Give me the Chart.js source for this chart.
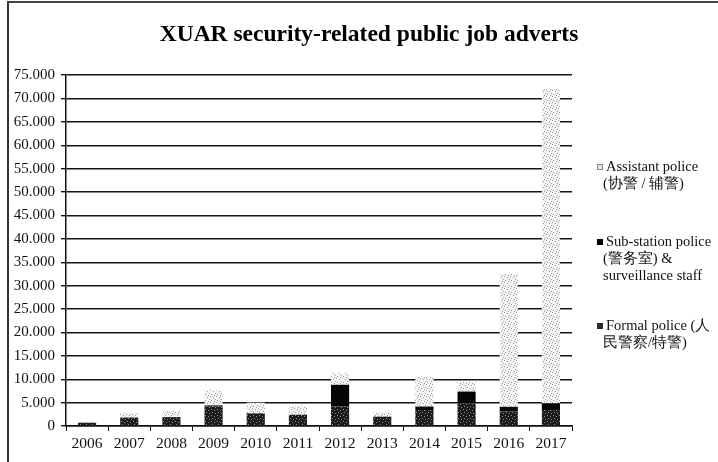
<!DOCTYPE html>
<html>
<head>
<meta charset="utf-8">
<script src="https://cdn.jsdelivr.net/npm/chart.js@4/dist/chart.umd.min.js"></script>
<style>
    html, body { margin: 0; padding: 0; background: #fff; }
    #wrap { position: relative; width: 718px; height: 462px; overflow: hidden; }
    #frame {
        position: absolute; left: 7px; top: 1px; right: -4px; bottom: -4px;
        border-left: 2px solid #333; border-top: 2px solid #444;
    }
    #advertsChart { position: absolute; left: 0; top: 0; }
    #chartTitle {
        position: absolute; left: 369px; top: 20px; transform: translateX(-50%);
        white-space: nowrap; font-family: "Liberation Serif", serif; font-weight: bold;
        font-size: 23.5px; line-height: 26px; color: #000;
    }
    .legend-item {
        position: absolute; left: 597px;
        font-family: "Liberation Serif", serif; font-size: 14.5px; line-height: 17px;
        color: #111;
    }
    .legend-item .line2 { margin-left: 6px; }
    .swatch {
        display: inline-block; width: 6px; height: 6px; margin-right: 3px;
        vertical-align: 1px; box-sizing: border-box;
    }
</style>
</head>
<body>
<div id="wrap">
    <canvas id="advertsChart" width="718" height="462"></canvas>
    <div id="frame"></div>
    <div id="chartTitle">XUAR security-related public job adverts</div>
    <div class="legend-item" style="top: 158px;">
        <span class="swatch" style="background:#e6e6e6;border:1px solid #888;"></span>Assistant police<br>
        <span class="line2">(协警 / 辅警)</span>
    </div>
    <div class="legend-item" style="top: 233px;">
        <span class="swatch" style="background:#000;"></span>Sub-station police<br>
        <span class="line2">(警务室) &amp;</span><br>
        <span class="line2">surveillance staff</span>
    </div>
    <div class="legend-item" style="top: 317px;">
        <span class="swatch" style="background:#2a2a2a;"></span>Formal police (人<br>
        <span class="line2">民警察/特警)</span>
    </div>
</div>

<script>
// Anúncios de vagas por ano, empilhados por tipo de cargo
const years = ['2006', '2007', '2008', '2009', '2010', '2011', '2012', '2013', '2014', '2015', '2016', '2017'];
const formalPolice = [700, 1800, 1900, 4200, 2700, 2400, 4150, 2000, 3400, 4850, 3100, 3400];
const substationPolice = [0, 0, 0, 200, 0, 0, 4650, 0, 750, 2500, 1000, 1450];
const assistantPolice = [200, 900, 1400, 3200, 2300, 1750, 2500, 850, 6350, 2050, 28400, 67150];
const yMax = 75000;
const yStep = 5000;

// Textura pontilhada fixa para as barras
function makePattern(base, dot, spots) {
    const c = document.createElement('canvas');
    c.width = 6;
    c.height = 6;
    const ctx = c.getContext('2d');
    ctx.fillStyle = base;
    ctx.fillRect(0, 0, 6, 6);
    ctx.fillStyle = dot;
    spots.forEach(([x, y]) => ctx.fillRect(x, y, 1, 1));
    return ctx.createPattern(c, 'repeat');
}

function formatThousands(v) {
    return String(v).replace(/\B(?=(\d{3})+(?!\d))/g, '.');
}

document.addEventListener('DOMContentLoaded', () => {
    const ctx = document.getElementById('advertsChart').getContext('2d');
    const formalFill = makePattern('#1c1c1c', '#8a8a8a', [[1, 1], [4, 2], [2, 4], [5, 5]]);
    const assistantFill = makePattern('#f4f4f4', '#9c9c9c', [[0, 0], [3, 1], [5, 3], [1, 4], [4, 5]]);

    new Chart(ctx, {
        type: 'bar',
        data: {
            labels: years,
            datasets: [
                { label: 'Formal police (人民警察/特警)', data: formalPolice, backgroundColor: formalFill },
                { label: 'Sub-station police (警务室) & surveillance staff', data: substationPolice, backgroundColor: '#050505' },
                { label: 'Assistant police (协警 / 辅警)', data: assistantPolice, backgroundColor: assistantFill }
            ]
        },
        options: {
            responsive: false,
            devicePixelRatio: 1,
            animation: false,
            datasets: {
                bar: { categoryPercentage: 1, barPercentage: 0.43 }
            },
            layout: {
                padding: { left: 8, right: 146, top: 75, bottom: 0 }
            },
            plugins: {
                legend: { display: false },
                tooltip: { enabled: false }
            },
            scales: {
                x: {
                    stacked: true,
                    afterFit: (scale) => { scale.height = 36; },
                    grid: {
                        offset: true,
                        drawOnChartArea: false,
                        drawTicks: true,
                        tickLength: 5,
                        color: '#111'
                    },
                    border: { display: true, color: '#111', width: 1.5 },
                    ticks: {
                        color: '#111',
                        padding: 4,
                        font: { family: '"Liberation Serif", serif', size: 15.5 }
                    }
                },
                y: {
                    stacked: true,
                    min: 0,
                    max: yMax,
                    afterFit: (scale) => { scale.width = 58; },
                    grid: {
                        color: '#151515',
                        lineWidth: 1.4,
                        drawTicks: true,
                        tickLength: 5
                    },
                    border: { display: true, color: '#111', width: 1.5 },
                    ticks: {
                        stepSize: yStep,
                        color: '#111',
                        padding: 6,
                        font: { family: '"Liberation Serif", serif', size: 15 },
                        callback: (v) => formatThousands(v)
                    }
                }
            }
        }
    });
});
</script>
</body>
</html>
